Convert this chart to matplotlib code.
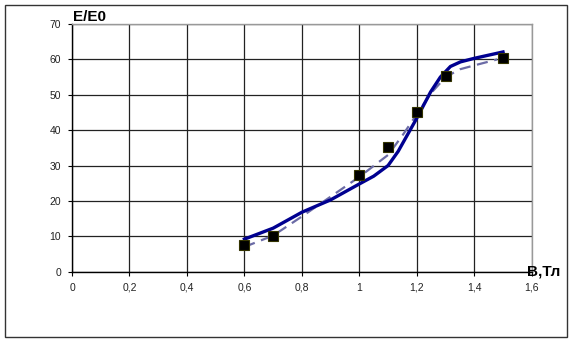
import matplotlib.pyplot as plt
from matplotlib.patches import Rectangle

# Measured points (squares)
B_POINTS = [0.6, 0.7, 1.0, 1.1, 1.2, 1.3, 1.5]
E_POINTS = [7.5, 10.2, 27.3, 35.3, 45.0, 55.3, 60.3]

# Solid model curve
B_SOLID = [0.6, 0.7, 0.8, 0.9, 1.0, 1.05, 1.1, 1.135, 1.2, 1.248, 1.282, 1.317, 1.352, 1.4, 1.5]
E_SOLID = [9.2, 12.3, 16.8, 20.3, 24.8, 27.0, 30.0, 34.0, 43.4, 50.8, 55.0, 58.0, 59.3, 60.3, 62.1]

# Dashed model curve
B_DASH = [0.6, 0.7, 0.8, 0.9, 1.0, 1.1, 1.15, 1.2, 1.25, 1.3, 1.35, 1.4, 1.48]
E_DASH = [7.0, 10.2, 15.6, 21.2, 26.8, 33.0, 38.5, 44.5, 50.5, 55.0, 57.2, 58.3, 60.0]

X_TICKS = [0, 0.2, 0.4, 0.6, 0.8, 1.0, 1.2, 1.4, 1.6]
X_LABELS = ['0', '0,2', '0,4', '0,6', '0,8', '1', '1,2', '1,4', '1,6']
Y_TICKS = [0, 10, 20, 30, 40, 50, 60, 70]

plt.rcParams['font.family'] = ['Liberation Sans', 'DejaVu Sans']

fig = plt.figure(figsize=(5.73, 3.42), dpi=100)
ax = fig.add_axes([0.1257, 0.2056, 0.928 - 0.1257, 0.9298 - 0.2056])

ax.plot(B_DASH, E_DASH, color='#6b6ba6', linestyle=(0, (5, 3)), linewidth=1.6, zorder=3)
ax.plot(B_SOLID, E_SOLID, color='#000090', linewidth=2.4, zorder=4)
ax.plot(B_POINTS, E_POINTS, linestyle='none', marker='s', markersize=7.5,
        markerfacecolor='black', markeredgecolor='#333300', markeredgewidth=0.8, zorder=5)

ax.set_xlim(0, 1.6)
ax.set_ylim(0, 70)
ax.set_xticks(X_TICKS)
ax.set_xticklabels(X_LABELS)
ax.set_yticks(Y_TICKS)
ax.tick_params(labelsize=7.5, length=3, width=0.8, colors='black', labelcolor='#222222', pad=5)
ax.grid(True, color='#222222', linewidth=0.9)
ax.set_axisbelow(True)
for side in ['left', 'bottom']:
    ax.spines[side].set_color('black')
    ax.spines[side].set_linewidth(1.0)
for side in ['top', 'right']:
    ax.spines[side].set_color('#999999')
    ax.spines[side].set_linewidth(1.0)

fig.text(73 / 573, 1 - 17 / 342, 'E/E0', fontsize=11, fontweight='bold', va='center', ha='left')
fig.text(527 / 573, 1 - 271 / 342, 'B,Тл', fontsize=11, fontweight='bold', va='center', ha='left')

fig.patches.append(Rectangle((5 / 573, 5 / 342), 562 / 573, 332 / 342, transform=fig.transFigure,
                             fill=False, edgecolor='#333333', linewidth=1.0))

fig.savefig('out.png', dpi=100)
